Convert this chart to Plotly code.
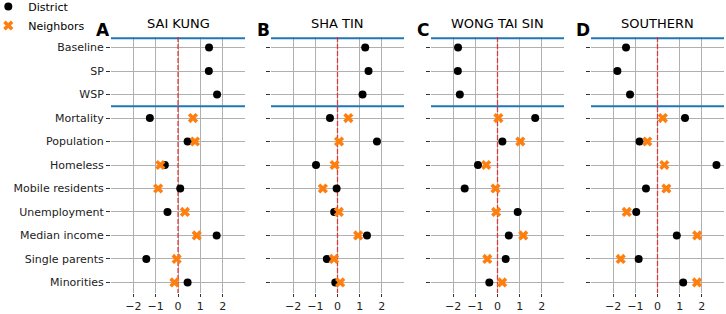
import plotly.graph_objects as go

categories = ["Baseline", "SP", "WSP", "Mortality", "Population", "Homeless",
              "Mobile residents", "Unemployment", "Median income",
              "Single parents", "Minorities"]
neighbor_categories = categories[3:]

panels = ["SAI KUNG", "SHA TIN", "WONG TAI SIN", "SOUTHERN"]
letters = ["A", "B", "C", "D"]

district_sai_kung = [1.39, 1.38, 1.75, -1.26, 0.43, -0.59, 0.10, -0.47, 1.73, -1.42, 0.43]
neighbors_sai_kung = [0.67, 0.76, -0.79, -0.89, 0.31, 0.84, -0.06, -0.16]

district_sha_tin = [1.25, 1.40, 1.13, -0.34, 1.78, -0.97, -0.04, -0.15, 1.33, -0.48, -0.10]
neighbors_sha_tin = [0.49, 0.07, -0.13, -0.66, 0.06, 0.93, -0.16, 0.12]

district_wong_tai_sin = [-1.78, -1.79, -1.70, 1.70, 0.22, -0.88, -1.48, 0.91, 0.51, 0.37, -0.37]
neighbors_wong_tai_sin = [0.04, 1.03, -0.51, -0.09, -0.06, 1.16, -0.46, 0.21]

district_southern = [-1.42, -1.81, -1.24, 1.24, -0.81, 2.66, -0.52, -0.96, 0.87, -0.85, 1.16]
neighbors_southern = [0.24, -0.46, 0.31, 0.40, -1.39, 1.79, -1.66, 1.78]

district_values = [district_sai_kung, district_sha_tin, district_wong_tai_sin, district_southern]
neighbor_values = [neighbors_sai_kung, neighbors_sha_tin, neighbors_wong_tai_sin, neighbors_southern]

x_ticks = [-2, -1, 0, 1, 2]

W, H = 726, 314
ML, MR, MT, MB = 111, 2, 37, 21
PW = W - ML - MR
PH = H - MT - MB
panel_px = [(111, 245), (271, 404), (431, 564), (591, 724)]
domains = [[(a - ML) / PW, (b - ML) / PW] for a, b in panel_px]

Y_TOP, Y_BOT = -0.45, 10.45
X_MIN, X_MAX = -3, 3

y_pos = {c: k for k, c in enumerate(categories)}
cat_y = [y_pos[c] for c in categories]
nb_y = [y_pos[c] for c in neighbor_categories]

FONT = "DejaVu Sans"
fig = go.Figure()

for i in range(4):
    sfx = "" if i == 0 else str(i + 1)
    xr, yr = "x" + sfx, "y" + sfx
    # blue separators and red dashed zero line (drawn first, under markers)
    for yy in [-0.4, 2.5]:
        fig.add_trace(go.Scatter(x=[X_MIN, X_MAX], y=[yy, yy], mode="lines",
                                 line=dict(color="#1f77b4", width=2),
                                 showlegend=False, hoverinfo="skip",
                                 xaxis=xr, yaxis=yr, cliponaxis=False))
    fig.add_trace(go.Scatter(x=[0, 0], y=[Y_TOP, Y_BOT], mode="lines",
                             line=dict(color="rgba(232,35,35,0.85)", width=1.3,
                                       dash="5px,2px"),
                             showlegend=False, hoverinfo="skip",
                             xaxis=xr, yaxis=yr))
    fig.add_trace(go.Scatter(
        x=district_values[i], y=cat_y, mode="markers",
        marker=dict(symbol="circle", size=8, color="black"),
        name="District", legendgroup="District", showlegend=(i == 0),
        xaxis=xr, yaxis=yr, cliponaxis=False))
    fig.add_trace(go.Scatter(
        x=neighbor_values[i], y=nb_y, mode="markers",
        marker=dict(symbol="x", size=9, color="#ff7f0e", line=dict(width=0)),
        name="Neighbors", legendgroup="Neighbors", showlegend=(i == 0),
        xaxis=xr, yaxis=yr, cliponaxis=False))

    xa = dict(domain=domains[i], range=[X_MIN, X_MAX], tickvals=x_ticks,
              showgrid=True, gridcolor="#b0b0b0", gridwidth=1,
              zeroline=False, showline=False, ticks="outside", ticklen=3,
              tickcolor="#333333", tickfont=dict(size=11, color="#222222"),
              anchor=yr, fixedrange=True)
    ya = dict(range=[Y_BOT, Y_TOP], tickvals=cat_y, ticktext=categories,
              showgrid=True, gridcolor="#b0b0b0", gridwidth=1,
              zeroline=False, showline=False, ticks="outside", ticklen=4,
              tickcolor="#333333", tickfont=dict(size=11, color="#222222"),
              showticklabels=(i == 0), anchor=xr, domain=[0, 1],
              fixedrange=True)
    fig.layout["xaxis" + sfx] = xa
    fig.layout["yaxis" + sfx] = ya

    cx = (domains[i][0] + domains[i][1]) / 2
    fig.add_annotation(text=panels[i], xref="paper", yref="paper",
                       x=cx, y=1 + (MT - 23) / PH, xanchor="center", yanchor="middle",
                       showarrow=False, font=dict(size=13, color="black", family=FONT))
    fig.add_annotation(text="<b>" + letters[i] + "</b>", xref="paper", yref="paper",
                       x=domains[i][0] - 8 / PW, y=1 + (MT - 30) / PH,
                       xanchor="center", yanchor="middle", showarrow=False,
                       font=dict(size=17, color="black", family=FONT))

fig.update_layout(
    width=W, height=H,
    margin=dict(l=ML, r=MR, t=MT, b=MB, autoexpand=False),
    plot_bgcolor="white", paper_bgcolor="white",
    font=dict(family=FONT, size=11, color="black"),
    legend=dict(x=(-11.7 - ML) / PW, y=1 + (MT + 8) / PH, xanchor="left", yanchor="top",
                bgcolor="rgba(0,0,0,0)", font=dict(size=11), itemwidth=30,
                tracegroupgap=0),
)

fig.write_html("out.html", config={"displayModeBar": False},
               post_script="document.body.style.margin='0px';")
